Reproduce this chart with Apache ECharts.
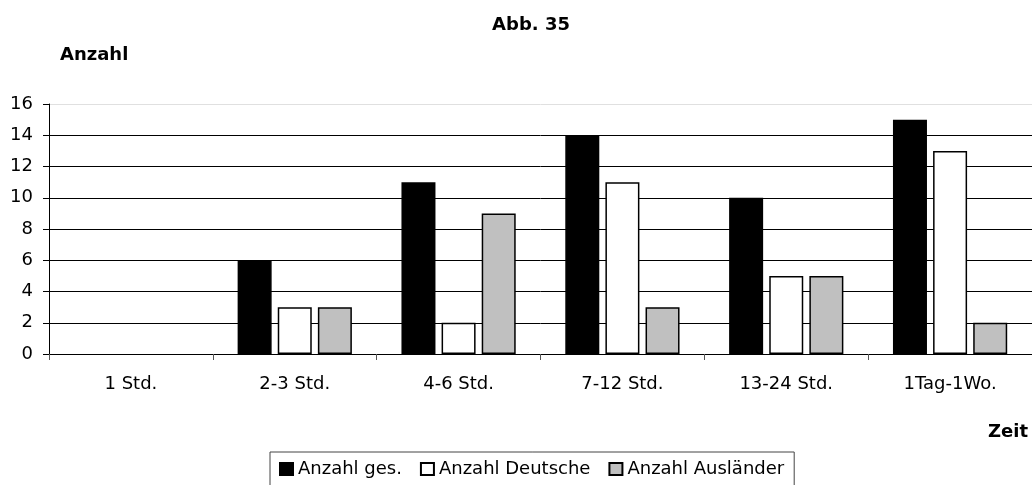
<!DOCTYPE html>
<html><head><meta charset="utf-8">
<script src="https://cdn.jsdelivr.net/npm/echarts@6/dist/echarts.min.js"></script>
<style>html,body{margin:0;padding:0;background:#fff}#c{width:1032px;height:485px}</style>
</head><body><div id="c"></div>
<script>
const categories = ['1 Std.', '2-3 Std.', '4-6 Std.', '7-12 Std.', '13-24 Std.', '1Tag-1Wo.'];
const anzahlGes = [0, 6, 11, 14, 10, 15];
const anzahlDeutsche = [0, 3, 2, 11, 5, 13];
const anzahlAuslaender = [0, 3, 9, 3, 5, 2];
const seriesNames = ['Anzahl ges.', 'Anzahl Deutsche', 'Anzahl Ausländer'];
const yTicks = { min: 0, max: 16, interval: 2 };

const font = 'DejaVu Sans, Liberation Sans, Arial, sans-serif';
const chart = echarts.init(document.getElementById('c'), null, { renderer: 'canvas' });
const barStyle = (c) => ({ color: c, borderColor: '#000', borderWidth: 1.5 });
// hide border of zero-height bars (nothing is drawn for zero in the reference)
const toData = (arr) => arr.map(v => v === 0 ? { value: v, itemStyle: { borderWidth: 0 } } : v);
const boldText = { fontFamily: font, fontSize: 18, lineHeight: 18, fontWeight: 'bold', color: '#000' };
chart.setOption({
  animation: false,
  backgroundColor: '#fff',
  textStyle: { fontFamily: font },
  title: [
    { text: 'Abb. 35', left: 531, top: 16, padding: 0, textAlign: 'center', textStyle: boldText },
    { text: 'Anzahl', left: 60, top: 46, padding: 0, textStyle: boldText },
    { text: 'Zeit', right: 4, top: 423, padding: 0, textStyle: boldText }
  ],
  legend: {
    left: 270, top: 452,
    padding: [8, 10, 8, 9],
    itemGap: 18,
    itemWidth: 13, itemHeight: 12,
    borderColor: '#444', borderWidth: 1,
    icon: 'rect',
    textStyle: { fontFamily: font, fontSize: 18, color: '#000' },
    data: seriesNames
  },
  grid: { left: 49, right: 0, top: 104, bottom: 131, containLabel: false },
  xAxis: {
    type: 'category',
    data: categories,
    axisLine: { lineStyle: { color: '#000', width: 1 } },
    axisTick: { show: true, length: 6, lineStyle: { color: '#555' }, alignWithLabel: false },
    axisLabel: { fontFamily: font, fontSize: 18, color: '#000', margin: 21 }
  },
  yAxis: {
    type: 'value',
    min: yTicks.min, max: yTicks.max, interval: yTicks.interval,
    axisLine: { show: true, lineStyle: { color: '#000', width: 1 } },
    axisTick: { show: true, length: 6, lineStyle: { color: '#000' } },
    axisLabel: { fontFamily: font, fontSize: 18, color: '#000', margin: 16 },
    splitLine: { show: true, lineStyle: { color: ['#000', '#000', '#000', '#000', '#000', '#000', '#000', '#000', '#e0e0e0'], width: 1 } }
  },
  series: [
    { name: seriesNames[0], type: 'bar', data: toData(anzahlGes), barWidth: 34, barGap: '18%', itemStyle: barStyle('#000') },
    { name: seriesNames[1], type: 'bar', data: toData(anzahlDeutsche), barWidth: 34, barGap: '18%', itemStyle: barStyle('#fff') },
    { name: seriesNames[2], type: 'bar', data: toData(anzahlAuslaender), barWidth: 34, barGap: '18%', itemStyle: barStyle('#c0c0c0') }
  ]
});
</script></body></html>
